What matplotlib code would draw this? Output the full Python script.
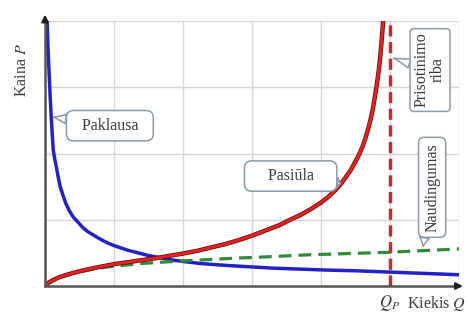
import matplotlib.pyplot as plt
import matplotlib.patheffects as pe

plt.rcParams["font.family"] = ["Liberation Serif", "DejaVu Serif"]
plt.rcParams["mathtext.fontset"] = "stix"

# demand curve (Paklausa)
demand_q = [0.03, 0.045, 0.06, 0.075, 0.09, 0.105, 0.12, 0.14, 0.16, 0.19, 0.22, 0.26,
            0.3, 0.35, 0.41, 0.48, 0.55, 0.62, 0.7, 0.78, 0.85, 0.92, 1.0, 1.1, 1.2,
            1.35, 1.5, 1.68, 1.86, 2.05, 2.25, 2.5, 2.8, 3.05, 3.3, 3.7, 4.1, 4.5,
            5.0, 5.5, 6.0]
demand_p = [4.0, 3.55, 3.2, 2.85, 2.55, 2.28, 2.05, 1.92, 1.82, 1.65, 1.5, 1.37,
            1.25, 1.14, 1.04, 0.96, 0.88, 0.82, 0.77, 0.72, 0.68, 0.645, 0.61, 0.575, 0.54,
            0.5, 0.46, 0.425, 0.39, 0.365, 0.34, 0.32, 0.30, 0.285, 0.27, 0.255, 0.24, 0.23,
            0.21, 0.19, 0.17]

# supply curve (Pasiula)
supply_q = [0.0, 0.05, 0.1, 0.2, 0.3, 0.4, 0.55, 0.7, 0.85, 1.0, 1.2, 1.4, 1.6, 1.8,
            2.0, 2.2, 2.4, 2.6, 2.8, 3.0, 3.2, 3.4, 3.55, 3.7, 3.85, 4.0, 4.1, 4.2,
            4.28, 4.35, 4.43, 4.5, 4.55, 4.6, 4.64, 4.68, 4.72, 4.75, 4.78, 4.81,
            4.84, 4.86, 4.88, 4.9]
supply_p = [0.0, 0.05, 0.08, 0.13, 0.165, 0.195, 0.235, 0.27, 0.30, 0.33, 0.36, 0.39, 0.42, 0.455,
            0.49, 0.53, 0.58, 0.63, 0.69, 0.76, 0.84, 0.92, 1.0, 1.07, 1.16, 1.26, 1.34, 1.44,
            1.53, 1.63, 1.75, 1.88, 1.98, 2.1, 2.22, 2.36, 2.52, 2.67, 2.85, 3.05,
            3.28, 3.48, 3.72, 4.0]

# utility curve (Naudingumas)
utility_q = [0.0, 0.1, 0.2, 0.3, 0.4, 0.55, 0.7, 0.85, 1.0, 1.2, 1.4, 1.7, 2.0, 2.4,
             2.75, 3.2, 3.8, 4.4, 5.0, 5.5, 6.0]
utility_p = [0.0, 0.075, 0.12, 0.16, 0.195, 0.225, 0.255, 0.28, 0.30, 0.32, 0.34, 0.36, 0.38, 0.40,
             0.42, 0.44, 0.47, 0.49, 0.51, 0.535, 0.56]

q_limit = 5.0

fig = plt.figure(figsize=(4.68, 3.19), dpi=100)
ax = fig.add_axes([0.0962, 0.1034, 0.8846, 0.8307])
ax.set_xlim(0, 6)
ax.set_ylim(0, 4)
ax.set_xticks(range(1, 7))
ax.set_yticks(range(1, 5))
ax.tick_params(length=0, labelbottom=False, labelleft=False)
ax.grid(True, color="#d6d6d6", lw=1)
for s in ["top", "right"]:
    ax.spines[s].set_visible(False)
for s in ["left", "bottom"]:
    ax.spines[s].set_color("#555555")
    ax.spines[s].set_linewidth(1.8)

# axis arrows
ax.annotate("", xy=(1.016, 0), xytext=(0.99, 0), xycoords="axes fraction",
            arrowprops=dict(arrowstyle="-|>", color="#222222", lw=1.5, mutation_scale=10))
ax.annotate("", xy=(0, 1.035), xytext=(0, 0.99), xycoords="axes fraction",
            arrowprops=dict(arrowstyle="-|>", color="#222222", lw=1.5, mutation_scale=10))

ax.plot(demand_q, demand_p, color="#2222c8", lw=2.5, solid_capstyle="round",
        solid_joinstyle="round")
ax.plot(utility_q, utility_p, color="#2e8b3a", lw=2.3, dashes=(4, 2.2))
ax.plot(supply_q, supply_p, color="#e02424", lw=2.0, solid_joinstyle="round",
        path_effects=[pe.Stroke(linewidth=3.2, foreground="#7a0a0a"), pe.Normal()])
ax.plot([q_limit, q_limit], [0, 4], color="#d02828", lw=2.5, dashes=(3.2, 1.6))

box = dict(boxstyle="round,pad=0.45", fc="white", ec="#8c9aa6", lw=1.1)
wedge = dict(arrowstyle="wedge,tail_width=0.6,shrink_factor=0.4", fc="white",
             ec="#8c9aa6", lw=1.1, shrinkA=0, shrinkB=0)
txt = dict(fontsize=11.5, color="#3a3a3a", ha="center", va="center")

ax.annotate("  Paklausa  ", xy=(0.12, 2.55), xytext=(0.94, 2.42), bbox=box,
            arrowprops=wedge, **txt)
ax.annotate("    Pasiūla    ", xy=(4.28, 1.55), xytext=(3.56, 1.66), bbox=box,
            arrowprops=wedge, **txt)
ax.annotate("Prisotinimo\nriba", xy=(5.05, 3.44), xytext=(5.58, 3.26),
            bbox=dict(box, boxstyle="round,pad=0.25"), arrowprops=wedge,
            rotation=90, linespacing=1.0, **txt)
ax.annotate("Naudingumas", xy=(5.48, 0.6), xytext=(5.61, 1.49),
            bbox=dict(box, boxstyle="round,pad=0.35"), arrowprops=wedge,
            rotation=90, **txt)

ax.text(-0.33, 3.26, r"Kaina $P$", rotation=90, fontsize=11.5, color="#3a3a3a",
        ha="center", va="center", clip_on=False)
ax.text(q_limit, -0.1, r"$Q_P$", fontsize=12, color="#3a3a3a", ha="center", va="top")
ax.text(5.25, -0.26, r"Kiekis $Q$", fontsize=11.5, color="#3a3a3a",
        ha="left", va="center", clip_on=False)

fig.savefig("out.png", dpi=100)
